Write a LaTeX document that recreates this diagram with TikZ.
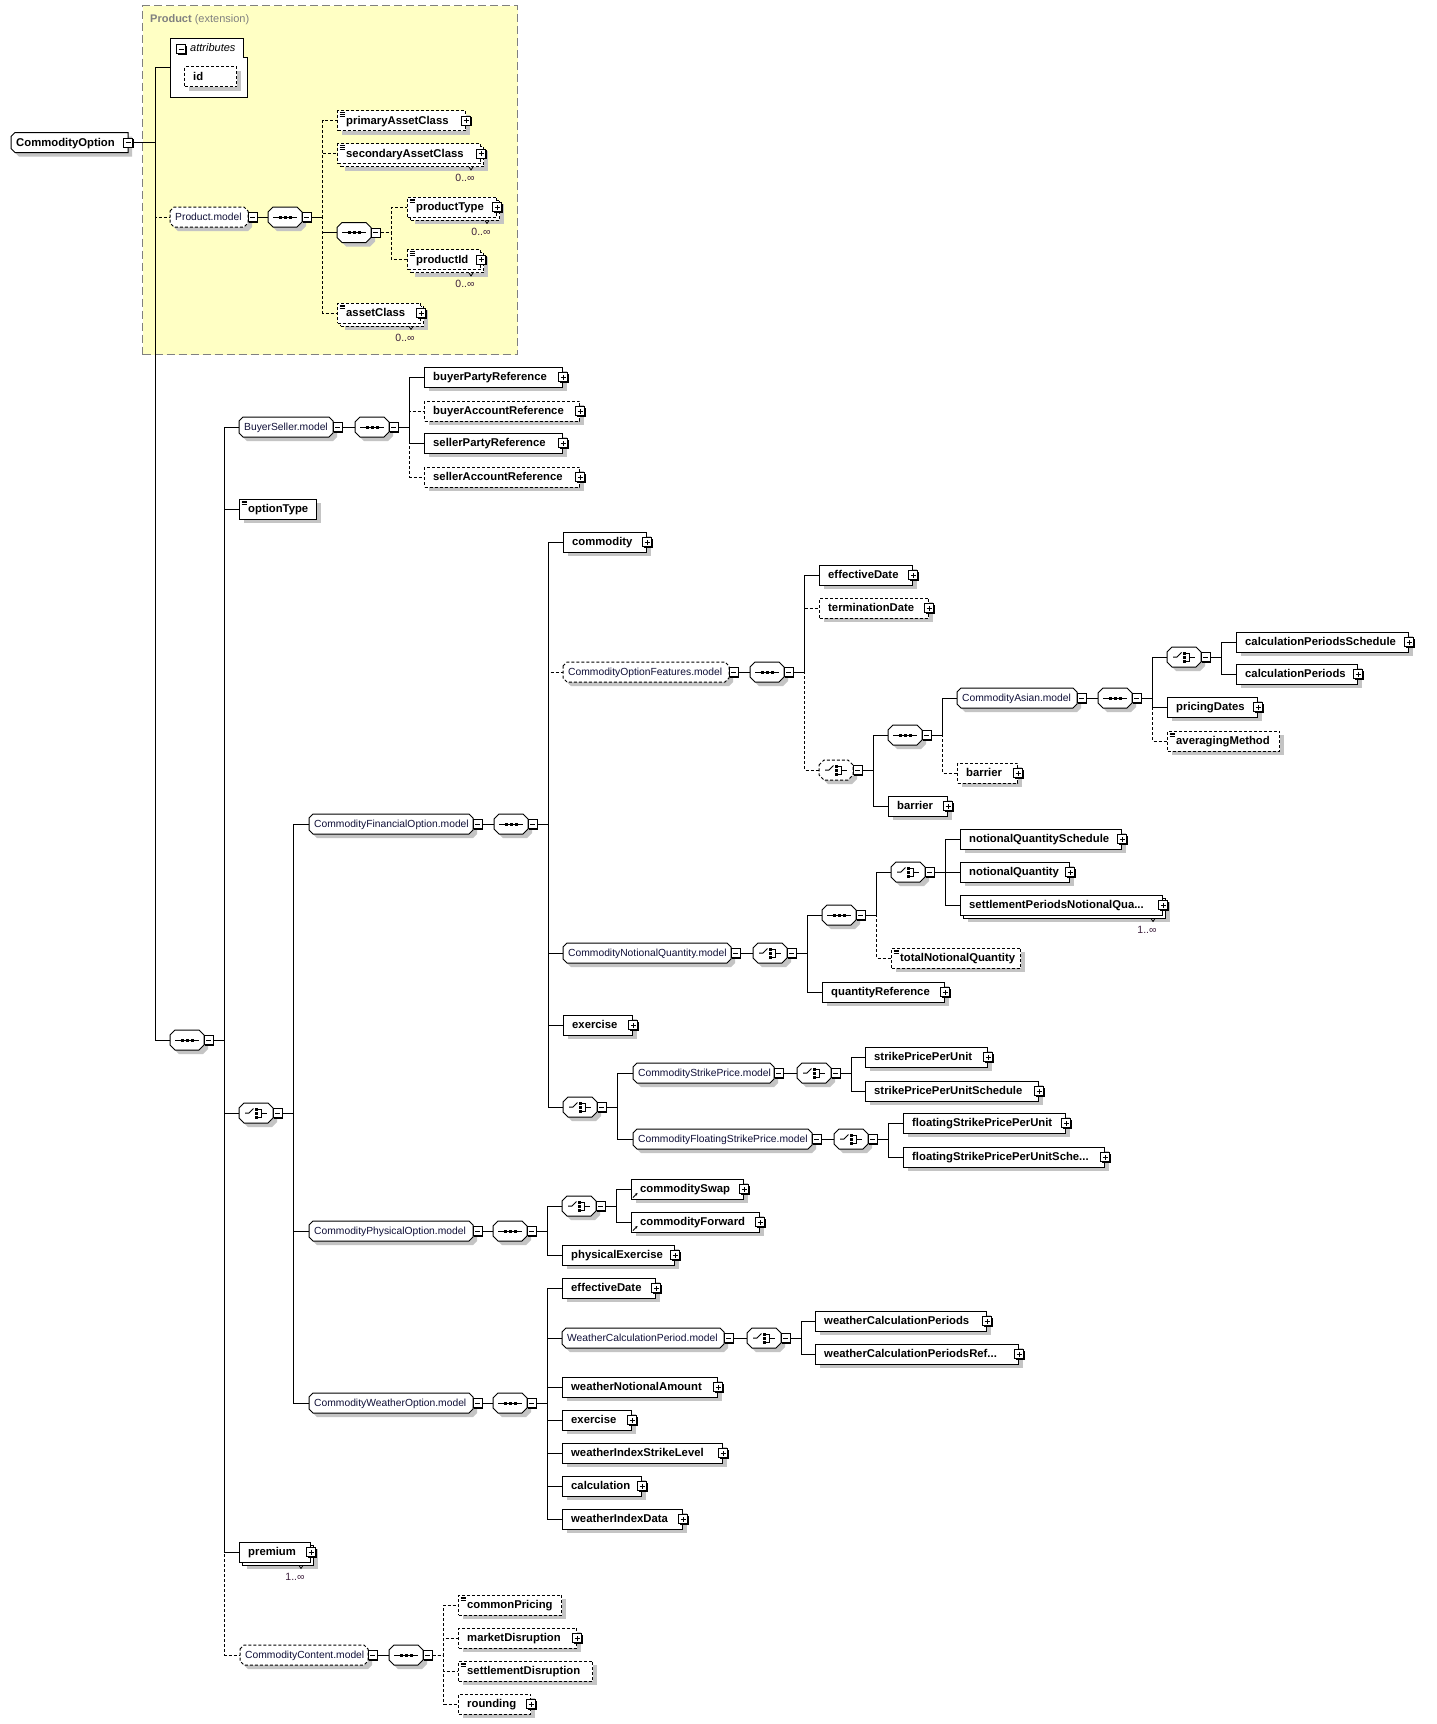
\documentclass[tikz,border=0pt]{standalone}
\usepackage{fontspec}
\setmainfont{Liberation Sans}
\usetikzlibrary{shadows,arrows.meta,calc}
\definecolor{shd}{RGB}{196,196,196}
\definecolor{mdl}{RGB}{16,16,56}
\definecolor{ylw}{RGB}{255,255,196}
\definecolor{ybrd}{RGB}{128,128,128}
\definecolor{occc}{RGB}{60,30,60}
\newcommand\elfont{\fontsize{11.3}{13}\selectfont\bfseries}
\newcommand\mdlfont{\fontsize{10.3}{12}\selectfont}
\newcommand\occfont{\fontsize{10.5}{12}\selectfont}
\newcommand\ttlfont{\fontsize{11}{13}\selectfont}
\newcommand\attfont{\fontsize{11}{13}\selectfont\itshape}
\tikzset{
  dsh/.style={dash pattern=on 3pt off 2pt},
  con/.style={line width=1pt},
  ocon/.style={con, dsh},
  ebase/.style={draw, fill=white, line width=1pt, minimum height=20pt, inner sep=0pt, anchor=west},
  elabel/.style={anchor=west, xshift=9pt, inner sep=0pt, font=\elfont, text height=9pt, text depth=2pt},
  el/.style={ebase, general shadow={fill=shd, shadow xshift=4pt, shadow yshift=-4pt}, label={[elabel]west:#1}},
  mel/.style={ebase, general shadow={fill=shd, shadow xshift=7pt, shadow yshift=-7pt},
     general shadow={draw, fill=white, shadow xshift=3pt, shadow yshift=-3pt}, label={[elabel]west:#1}},
  simp/.style={path picture={\draw[solid, line width=0.8pt] ([shift={(2pt,-2pt)}]path picture bounding box.north west) -- ++(5,0) ++(-5,1.8) -- ++(5,0) ++(-5,1.8) -- ++(5,0);}},
  refar/.style={path picture={\draw[solid, line width=0.8pt, -{Stealth[length=2.6pt,width=2.6pt]}] ([shift={(1.5pt,1.5pt)}]path picture bounding box.south west) -- ++(4.5,-4.5);}},
  mbox/.style={draw, fill=white, line width=1pt, minimum size=9pt, inner sep=0pt, anchor=west,
     general shadow={fill=black, shadow xshift=1pt, shadow yshift=-1pt},
     path picture={\draw[solid, line width=1pt] ([xshift=2pt]path picture bounding box.west) -- ([xshift=-2pt]path picture bounding box.east);}},
  pbox/.style={draw, fill=white, line width=1pt, minimum size=9pt, inner sep=0pt,
     general shadow={fill=black, shadow xshift=1pt, shadow yshift=-1pt},
     path picture={\draw[solid, line width=1pt] ([xshift=2pt]path picture bounding box.west) -- ([xshift=-2pt]path picture bounding box.east) ([yshift=2pt]path picture bounding box.south) -- ([yshift=-2pt]path picture bounding box.north);}},
  cnode/.style={minimum width=34pt, minimum height=20pt, inner sep=0pt, anchor=west},
  gtext/.style={anchor=west, inner xsep=5pt, inner ysep=0pt, font=\mdlfont, text=mdl, text height=8pt, text depth=2pt},
  occl/.style={inner sep=0pt, font=\occfont, text=occc},
}
% octagon shape: opts, x1, x2, y, chamfer
\newcommand\grpshape[5]{%
  \fill[shd, shift={(4,4)}] (#2,#4-10+#5) -- (#2+#5,#4-10) -- (#3-#5,#4-10) -- (#3,#4-10+#5) -- (#3,#4+10-#5) -- (#3-#5,#4+10) -- (#2+#5,#4+10) -- (#2,#4+10-#5) -- cycle;
  \draw[line width=1pt, fill=white, #1] (#2,#4-10+#5) -- (#2+#5,#4-10) -- (#3-#5,#4-10) -- (#3,#4-10+#5) -- (#3,#4+10-#5) -- (#3-#5,#4+10) -- (#2+#5,#4+10) -- (#2,#4+10-#5) -- cycle;}
% sequence compositor: opts, name, x1, y
\newcommand\seqc[4]{%
  \grpshape{#1}{#3}{#3+34}{#4}{5}
  \draw[solid, line width=1pt] (#3+5,#4) -- (#3+29,#4);
  \fill (#3+10.5,#4-1.5) rectangle ++(3,3);
  \fill (#3+15.5,#4-1.5) rectangle ++(3,3);
  \fill (#3+20.5,#4-1.5) rectangle ++(3,3);
  \node[cnode] (#2) at (#3,#4) {};
  \node[mbox] (#2M) at (#3+33.5,#4) {};}
% choice compositor: opts, name, x1, y
\newcommand\chc[4]{%
  \grpshape{#1}{#3}{#3+34}{#4}{5}
  \draw[solid, line width=1pt] (#3+6,#4) -- (#3+10,#4) -- (#3+14.5,#4-4.5);
  \fill (#3+15.5,#4-5.5) rectangle ++(3,3);
  \fill (#3+15.5,#4-1.5) rectangle ++(3,3);
  \fill (#3+15.5,#4+2.5) rectangle ++(3,3);
  \draw[solid, line width=1pt] (#3+18.5,#4-4) -- (#3+22.5,#4-4) -- (#3+22.5,#4+4) -- (#3+18.5,#4+4) (#3+22.5,#4) -- (#3+28,#4);
  \node[cnode] (#2) at (#3,#4) {};
  \node[mbox] (#2M) at (#3+33.5,#4) {};}
% group: opts, name, x1, x2, y, text
\newcommand\grp[6]{%
  \grpshape{#1}{#3}{#4}{#5}{4}
  \node[gtext] (#2) at (#3,#5) {#6};
  \node[mbox] (#2M) at (#4-0.5,#5) {};}
\newcommand\pl[1]{\node[pbox] (#1P) at (#1.east) {};}
\newcommand\occ[2]{%
  \draw[line width=0.8pt] ([shift={(-12,3)}]#1.south east) -- ++(2,3) -- ++(2,-3);
  \node[occl] (#1O) at ([shift={(-16,14)}]#1.south east) {#2};}
\begin{document}
\begin{tikzpicture}[x=1pt,y=-1pt]
\useasboundingbox (0,0) rectangle (1437,1724);
\fill[white] (0,0) rectangle (1437,1724);

% ---------- Product (extension) ----------
\node[draw=ybrd, fill=ylw, line width=1pt, dash pattern=on 8pt off 4pt, minimum width=375, minimum height=349, inner sep=0pt, anchor=north west] (prodext) at (142,5) {};
\node[anchor=west, inner sep=0pt, text=ybrd, font=\ttlfont, text height=8pt, text depth=2.5pt] (prodT) at (150,19.5) {\textbf{Product} (extension)};

% root
\fill[shd, shift={(4,4)}] (15,132.5) -- (128,132.5) -- (128,152.5) -- (15,152.5) -- (11,148.5) -- (11,136.5) -- cycle;
\draw[line width=1pt, fill=white] (15,132.5) -- (128,132.5) -- (128,152.5) -- (15,152.5) -- (11,148.5) -- (11,136.5) -- cycle;
\node[anchor=west, inner xsep=5pt, inner ysep=0pt, font=\elfont, text height=9pt, text depth=2pt] (root) at (11,142.5) {CommodityOption};
\node[mbox, anchor=center] (rootM) at (128,142.5) {};

% attributes
\draw[line width=1pt, fill=white] (170,38) -- (243,38) -- (243,57) -- (247,57) -- (247,97) -- (170,97) -- cycle;
\node[inner sep=0pt, minimum width=77, minimum height=59, anchor=north west] (attr) at (170,38) {};
\node[mbox] (attrM) at (176,49) {};
\node[anchor=west, inner sep=0pt, font=\attfont, text height=8pt, text depth=2pt] (attrT) at (190,48.5) {attributes};
\node[el=id, dsh, minimum width=52] (idn) at (184,76.5) {};

% Product.model
\grp{dsh}{pm}{170}{248}{217}{Product.model}
\seqc{}{s1}{268}{217}
\node[el=primaryAssetClass, dsh, simp, minimum width=128] (pac) at (337,120.5) {}; \pl{pac}
\node[mel=secondaryAssetClass, dsh, simp, minimum width=143] (sac) at (337,153.5) {}; \pl{sac} \occ{sac}{0..∞}
\seqc{}{s2}{337}{232.5}
\node[mel=productType, dsh, simp, minimum width=89] (pt) at (407,207) {}; \pl{pt} \occ{pt}{0..∞}
\node[mel=productId, dsh, simp, minimum width=73] (pid) at (407,259.5) {}; \pl{pid} \occ{pid}{0..∞}
\node[mel=assetClass, dsh, simp, minimum width=83] (ac) at (337,313) {}; \pl{ac} \occ{ac}{0..∞}

% main sequence
\seqc{}{ms}{170}{1040}

% BuyerSeller
\grp{}{bsm}{239}{333}{427}{BuyerSeller.model}
\seqc{}{bss}{355}{427}
\node[el=buyerPartyReference, minimum width=138] (bpr) at (424,377) {}; \pl{bpr}
\node[el=buyerAccountReference, dsh, minimum width=155] (bar) at (424,411) {}; \pl{bar}
\node[el=sellerPartyReference, minimum width=138] (spr) at (424,443) {}; \pl{spr}
\node[el=sellerAccountReference, dsh, minimum width=155] (sar) at (424,477) {}; \pl{sar}
\node[el=optionType, simp, minimum width=77] (ot) at (239,509) {};

% main choice
\chc{}{mc}{239}{1113}

% Financial option
\grp{}{cfo}{309}{473}{824}{CommodityFinancialOption.model}
\seqc{}{fs}{494}{824}
\node[el=commodity, minimum width=83] (com) at (563,542) {}; \pl{com}
\grp{dsh}{cof}{563}{729}{672}{CommodityOptionFeatures.model}
\seqc{}{cofs}{750}{672}
\node[el=effectiveDate, minimum width=93] (ed1) at (819,575) {}; \pl{ed1}
\node[el=terminationDate, dsh, minimum width=109] (td) at (819,608) {}; \pl{td}
\chc{dsh}{chA}{819}{770}
\seqc{}{sA}{888}{735}
\node[el=barrier, minimum width=59] (b1) at (888,806) {}; \pl{b1}
\grp{}{cam}{957}{1077}{698}{CommodityAsian.model}
\node[el=barrier, dsh, minimum width=60] (b2) at (957,773) {}; \pl{b2}
\seqc{}{sB}{1098}{698}
\chc{}{chB}{1167}{657}
\node[el=calculationPeriodsSchedule, minimum width=172] (cps) at (1236,642) {}; \pl{cps}
\node[el=calculationPeriods, minimum width=121] (cp) at (1236,674) {}; \pl{cp}
\node[el=pricingDates, minimum width=90] (pd) at (1167,707) {}; \pl{pd}
\node[el=averagingMethod, dsh, simp, minimum width=112] (am) at (1167,741) {};

\grp{}{cnq}{563}{731}{953}{CommodityNotionalQuantity.model}
\chc{}{chC}{753}{953}
\seqc{}{sC}{822}{915}
\chc{}{chD}{891}{872}
\node[el=notionalQuantitySchedule, minimum width=161] (nqs) at (960,839) {}; \pl{nqs}
\node[el=notionalQuantity, minimum width=109] (nq) at (960,872) {}; \pl{nq}
\node[mel=settlementPeriodsNotionalQua..., minimum width=202] (spn) at (960,905) {}; \pl{spn} \occ{spn}{1..∞}
\node[el=totalNotionalQuantity, dsh, simp, minimum width=129] (tnq) at (891,958) {};
\node[el=quantityReference, minimum width=122] (qr) at (822,992) {}; \pl{qr}

\node[el=exercise, minimum width=69] (ex1) at (563,1025) {}; \pl{ex1}
\chc{}{chFS}{563}{1107}
\grp{}{csp}{633}{774}{1073}{CommodityStrikePrice.model}
\chc{}{chE}{797}{1073}
\node[el=strikePricePerUnit, minimum width=122] (sppu) at (865,1057) {}; \pl{sppu}
\node[el=strikePricePerUnitSchedule, minimum width=173] (spps) at (865,1091) {}; \pl{spps}
\grp{}{cfsp}{633}{812}{1139}{CommodityFloatingStrikePrice.model}
\chc{}{chF}{834}{1139}
\node[el=floatingStrikePricePerUnit, minimum width=162] (fspu) at (903,1123) {}; \pl{fspu}
\node[el=floatingStrikePricePerUnitSche..., minimum width=201] (fsps) at (903,1157) {}; \pl{fsps}

% Physical option
\grp{}{cpo}{309}{473}{1231}{CommodityPhysicalOption.model}
\seqc{}{sP}{493}{1231}
\chc{}{chP}{562}{1206}
\node[el=commoditySwap, refar, minimum width=112] (cs) at (631,1189) {}; \pl{cs}
\node[el=commodityForward, refar, minimum width=128] (cf) at (631,1222) {}; \pl{cf}
\node[el=physicalExercise, minimum width=112] (pe) at (562,1255) {}; \pl{pe}

% Weather option
\grp{}{cwo}{309}{473}{1403}{CommodityWeatherOption.model}
\seqc{}{sW}{493}{1403}
\node[el=effectiveDate, minimum width=93] (ed2) at (562,1288) {}; \pl{ed2}
\grp{}{wcp}{562}{724}{1338}{WeatherCalculationPeriod.model}
\chc{}{chW}{747}{1338}
\node[el=weatherCalculationPeriods, minimum width=171] (wcps) at (815,1321) {}; \pl{wcps}
\node[el=weatherCalculationPeriodsRef..., minimum width=203] (wcpr) at (815,1354) {}; \pl{wcpr}
\node[el=weatherNotionalAmount, minimum width=155] (wna) at (562,1387) {}; \pl{wna}
\node[el=exercise, minimum width=69] (ex2) at (562,1420) {}; \pl{ex2}
\node[el=weatherIndexStrikeLevel, minimum width=160] (wisl) at (562,1453) {}; \pl{wisl}
\node[el=calculation, minimum width=79] (calc) at (562,1486) {}; \pl{calc}
\node[el=weatherIndexData, minimum width=120] (wid) at (562,1519) {}; \pl{wid}

% premium
\node[mel=premium, minimum width=71] (prem) at (239,1552) {}; \pl{prem} \occ{prem}{1..∞}

% Commodity content
\grp{dsh}{ccm}{240}{368}{1655}{CommodityContent.model}
\seqc{}{sCC}{389}{1655}
\node[el=commonPricing, dsh, simp, minimum width=103] (cpr) at (458,1605) {};
\node[el=marketDisruption, dsh, minimum width=118] (md) at (458,1638) {}; \pl{md}
\node[el=settlementDisruption, dsh, simp, minimum width=134] (sd) at (458,1671) {};
\node[el=rounding, dsh, minimum width=72] (rd) at (458,1704) {}; \pl{rd}

% ---------- connectors ----------
\draw[con] (rootM.east) -- ++(22.5,0) |- (attr.west);
\draw[ocon] (rootM.east) -- ++(22.5,0) |- (pm.west);
\draw[con] (rootM.east) -- ++(22.5,0) |- (ms.west);

\draw[con] (pmM.east) -- (s1.west);
\draw[ocon] (s1M.east) -- ++(11,0) |- (pac.west);
\draw[ocon] (s1M.east) -- ++(11,0) |- (sac.west);
\draw[ocon] (s1M.east) -- ++(11,0) |- (ac.west);
\draw[con] (s1M.east) -- ++(11,0) coordinate (pbus);
\draw[con] (pbus |- s2.west) -- (s2.west);
\draw[ocon] (s2M.east) -- ++(11,0) |- (pt.west);
\draw[ocon] (s2M.east) -- ++(11,0) |- (pid.west);

\draw[con] (msM.east) -- ++(11,0) |- (bsm.west);
\draw[con] (msM.east) -- ++(11,0) |- (ot.west);
\draw[con] (msM.east) -- ++(11,0) |- (mc.west);
\draw[con] (msM.east) -- ++(11,0) |- (prem.west);
\draw[ocon] (msM.east) -- ++(11,0) |- (ccm.west);

\draw[con] (bsmM.east) -- (bss.west);
\draw[con] (bssM.east) -- ++(11,0) |- (bpr.west);
\draw[ocon] (bssM.east) -- ++(11,0) |- (bar.west);
\draw[con] (bssM.east) -- ++(11,0) |- (spr.west);
\draw[ocon] (bssM.east) -- ++(11,0) |- (sar.west);

\draw[con] (mcM.east) -- ++(11,0) |- (cfo.west);
\draw[con] (mcM.east) -- ++(11,0) |- (cpo.west);
\draw[con] (mcM.east) -- ++(11,0) |- (cwo.west);

\draw[con] (cfoM.east) -- (fs.west);
\draw[con] (fsM.east) -- ++(11,0) |- (com.west);
\draw[ocon] (fsM.east) -- ++(11,0) |- (cof.west);
\draw[con] (fsM.east) -- ++(11,0) |- (cnq.west);
\draw[con] (fsM.east) -- ++(11,0) |- (ex1.west);
\draw[con] (fsM.east) -- ++(11,0) |- (chFS.west);

\draw[con] (cofM.east) -- (cofs.west);
\draw[con] (cofsM.east) -- ++(11,0) |- (ed1.west);
\draw[ocon] (cofsM.east) -- ++(11,0) |- (td.west);
\draw[ocon] (cofsM.east) -- ++(11,0) |- (chA.west);
\draw[con] (chAM.east) -- ++(11,0) |- (sA.west);
\draw[con] (chAM.east) -- ++(11,0) |- (b1.west);
\draw[con] (sAM.east) -- ++(11,0) |- (cam.west);
\draw[ocon] (sAM.east) -- ++(11,0) |- (b2.west);
\draw[con] (camM.east) -- (sB.west);
\draw[con] (sBM.east) -- ++(11,0) |- (chB.west);
\draw[con] (sBM.east) -- ++(11,0) |- (pd.west);
\draw[ocon] (sBM.east) -- ++(11,0) |- (am.west);
\draw[con] (chBM.east) -- ++(11,0) |- (cps.west);
\draw[con] (chBM.east) -- ++(11,0) |- (cp.west);

\draw[con] (cnqM.east) -- (chC.west);
\draw[con] (chCM.east) -- ++(11,0) |- (sC.west);
\draw[con] (chCM.east) -- ++(11,0) |- (qr.west);
\draw[con] (sCM.east) -- ++(11,0) |- (chD.west);
\draw[ocon] (sCM.east) -- ++(11,0) |- (tnq.west);
\draw[con] (chDM.east) -- ++(11,0) |- (nqs.west);
\draw[con] (chDM.east) -- ++(11,0) |- (nq.west);
\draw[con] (chDM.east) -- ++(11,0) |- (spn.west);

\draw[con] (chFSM.east) -- ++(11,0) |- (csp.west);
\draw[con] (chFSM.east) -- ++(11,0) |- (cfsp.west);
\draw[con] (cspM.east) -- (chE.west);
\draw[con] (chEM.east) -- ++(11,0) |- (sppu.west);
\draw[con] (chEM.east) -- ++(11,0) |- (spps.west);
\draw[con] (cfspM.east) -- (chF.west);
\draw[con] (chFM.east) -- ++(11,0) |- (fspu.west);
\draw[con] (chFM.east) -- ++(11,0) |- (fsps.west);

\draw[con] (cpoM.east) -- (sP.west);
\draw[con] (sPM.east) -- ++(11,0) |- (chP.west);
\draw[con] (sPM.east) -- ++(11,0) |- (pe.west);
\draw[con] (chPM.east) -- ++(11,0) |- (cs.west);
\draw[con] (chPM.east) -- ++(11,0) |- (cf.west);

\draw[con] (cwoM.east) -- (sW.west);
\draw[con] (sWM.east) -- ++(11,0) |- (ed2.west);
\draw[con] (sWM.east) -- ++(11,0) |- (wcp.west);
\draw[con] (sWM.east) -- ++(11,0) |- (wna.west);
\draw[con] (sWM.east) -- ++(11,0) |- (ex2.west);
\draw[con] (sWM.east) -- ++(11,0) |- (wisl.west);
\draw[con] (sWM.east) -- ++(11,0) |- (calc.west);
\draw[con] (sWM.east) -- ++(11,0) |- (wid.west);
\draw[con] (wcpM.east) -- (chW.west);
\draw[con] (chWM.east) -- ++(11,0) |- (wcps.west);
\draw[con] (chWM.east) -- ++(11,0) |- (wcpr.west);

\draw[con] (ccmM.east) -- (sCC.west);
\draw[ocon] (sCCM.east) -- ++(11,0) |- (cpr.west);
\draw[ocon] (sCCM.east) -- ++(11,0) |- (md.west);
\draw[ocon] (sCCM.east) -- ++(11,0) |- (sd.west);
\draw[ocon] (sCCM.east) -- ++(11,0) |- (rd.west);
\end{tikzpicture}
\end{document}
